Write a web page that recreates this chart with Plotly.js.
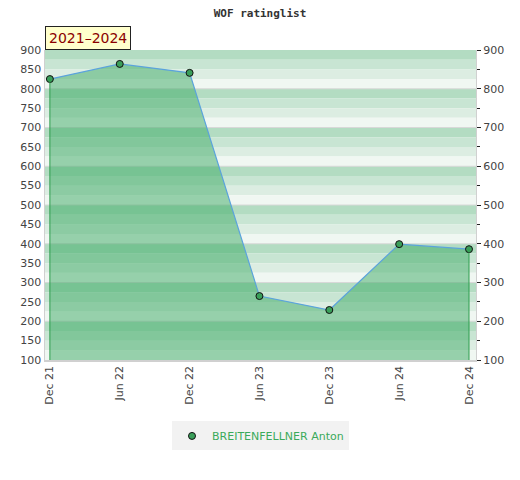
<!DOCTYPE html>
<html><head><meta charset="utf-8">
<script src="https://cdn.plot.ly/plotly-3.0.1.min.js"></script>
<style>body{margin:0;background:#fff}#c{width:520px;height:480px}</style>
</head><body><div id="c"></div>
<script>
const categories = ["Dec 21","Jun 22","Dec 22","Jun 23","Dec 23","Jun 24","Dec 24"];
const ratings = [825, 864, 841, 265, 229, 399, 386];
const seriesName = "BREITENFELLNER Anton";
const periodLabel = "2021\u20132024";
const chartTitle = "WOF ratinglist";
const yMin = 100, yMax = 900;

const bandColors = ["#b3dcc2","#c8e5d3","#dcede2","#f0f7f2"];
const shapes = [];
for (let top = yMax; top > yMin; top -= 25) {
  const idx = ((yMax - top) / 25) % 4;
  shapes.push({type:"rect", xref:"paper", yref:"y", x0:0, x1:1, y0:top-25, y1:top,
    fillcolor:bandColors[idx], line:{width:0}, layer:"below"});
}
for (let v = yMin + 100; v < yMax; v += 100) {
  shapes.push({type:"line", xref:"paper", yref:"y", x0:0, x1:1, y0:v, y1:v,
    line:{color:"#d8d8d8", width:1}, layer:"below"});
}

const n = categories.length;
const markerStyle = {color:"#3a9f5a", size:7, line:{color:"#111", width:1}};
const traces = [
  {x:categories, y:ratings, type:"scatter", mode:"lines+markers", name:seriesName,
   fill:"tozeroy", fillcolor:"rgba(60,170,100,0.5)", showlegend:false,
   line:{color:"#5ba3dc", width:1.2}, marker:markerStyle},
  {x:[categories[0],categories[0]], y:[ratings[0], yMin], mode:"lines", showlegend:false,
   line:{color:"#2e9e4e", width:1}, hoverinfo:"skip"},
  {x:[categories[n-1],categories[n-1]], y:[ratings[n-1], yMin], mode:"lines", showlegend:false,
   line:{color:"#2e9e4e", width:1}, hoverinfo:"skip"},
  {x:categories, y:ratings, yaxis:"y2", mode:"lines", showlegend:false,
   line:{width:0}, hoverinfo:"skip", opacity:0},
  {x:[null], y:[null], mode:"markers", name:seriesName, marker:markerStyle, showlegend:true}
];

const tickFont = {family:"DejaVu Sans", size:11, color:"#444"};
const layout = {
  width:520, height:480,
  margin:{l:45, r:44, t:50, b:120},
  paper_bgcolor:"#fff", plot_bgcolor:"rgba(0,0,0,0)",
  title:{text:chartTitle, x:0.5, xanchor:"center", y:0.973, yanchor:"middle",
    font:{family:"DejaVu Sans Mono", size:11, color:"#333", weight:"bold"}},
  xaxis:{type:"category", range:[-0.07, n-1+0.1], tickangle:-90, tickfont:tickFont,
    showgrid:false, zeroline:false, showline:true, linecolor:"#d0d0d0", linewidth:1.5,
    ticks:"", fixedrange:true},
  yaxis:{range:[yMin, yMax], dtick:50, tickfont:tickFont, showgrid:false, zeroline:false,
    showline:true, linecolor:"#d0d0d0", linewidth:1.5, ticks:"", ticklen:0},
  yaxis2:{range:[yMin, yMax], dtick:100, overlaying:"y", side:"right", tickfont:tickFont,
    showgrid:false, zeroline:false, showline:true, linecolor:"#d0d0d0", linewidth:1,
    ticks:"outside", ticklen:4, tickcolor:"#222",
    minor:{dtick:50, ticks:"outside", ticklen:3, tickcolor:"#222"}},
  shapes:shapes,
  showlegend:true,
  legend:{x:0.5, xanchor:"center", y:-0.245, yanchor:"middle", bgcolor:"#f2f2f2",
    font:{family:"DejaVu Sans", size:11, color:"#3aaa5a"}, itemwidth:30,
    tracegroupgap:0, valign:"middle"},
  annotations:[{text:periodLabel, xref:"paper", yref:"paper", x:0, xanchor:"left",
    y:1.0, yanchor:"bottom", showarrow:false, bgcolor:"#ffffcc", bordercolor:"#222",
    borderwidth:1, borderpad:3,
    font:{family:"DejaVu Sans", size:14, color:"#8b0000"}}]
};
Plotly.newPlot("c", traces, layout, {displayModeBar:false, staticPlot:true});
</script></body></html>
